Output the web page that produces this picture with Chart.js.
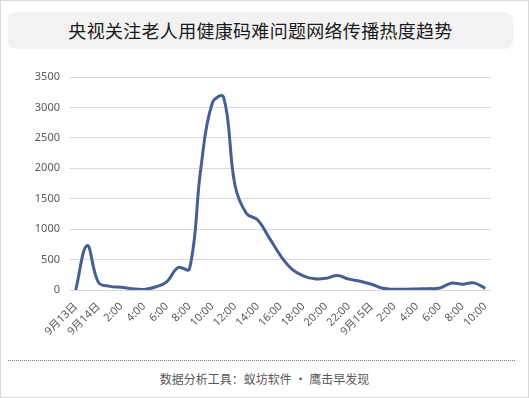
<!DOCTYPE html>
<html>
<head>
<meta charset="utf-8">
<script src="https://cdn.jsdelivr.net/npm/chart.js@4"></script>
<style>
  html, body { margin: 0; padding: 0; background: #fff; }
  #wrap { position: relative; width: 527px; height: 396px; border: 1px solid #d9d9d9; overflow: hidden;
          font-family: "Noto Sans CJK SC", "Noto Sans", sans-serif; }
  #title { position: absolute; left: 7px; top: 11px; width: 505px; height: 37px; background: #f2f2f2;
           border-radius: 8px; text-align: center; line-height: 37px; font-size: 18px; color: #1a1a1a;
           letter-spacing: 0.3px; }
  #chartBox { position: absolute; left: -1px; top: 54px; width: 529px; height: 300px; }
  #rule { position: absolute; left: 7px; top: 359px; width: 507px; border-top: 1px dotted #777; }
  #foot { position: absolute; left: 0; top: 368px; width: 527px; text-align: center; font-size: 12px;
          color: #595959; line-height: 20px; }
</style>
</head>
<body>
<div id="wrap">
  <div id="title">央视关注老人用健康码难问题网络传播热度趋势</div>
  <div id="chartBox"><canvas id="heatChart" width="529" height="300"></canvas></div>
  <div id="rule"></div>
  <div id="foot">数据分析工具：蚁坊软件 · 鹰击早发现</div>
</div>
<script>
// hourly points, 9/13 22:00 -> 9/15 10:00 (every other label shown)
const hours = [
  '9月13日', '23:00',
  '9月14日', '1:00', '2:00', '3:00', '4:00', '5:00', '6:00', '7:00', '8:00', '9:00', '10:00', '11:00',
  '12:00', '13:00', '14:00', '15:00', '16:00', '17:00', '18:00', '19:00', '20:00', '21:00', '22:00', '23:00',
  '9月15日', '1:00', '2:00', '3:00', '4:00', '5:00', '6:00', '7:00', '8:00', '9:00', '10:00'
];
const heat = [
  0, 730,
  125, 60, 45, 20, 10, 50, 135, 370, 345, 2000, 3070, 3170,
  1720, 1260, 1150, 860, 565, 345, 233, 183, 192, 238, 178, 145,
  95, 28, 12, 12, 17, 22, 33, 112, 95, 117, 28
];
const yTicks = [0, 500, 1000, 1500, 2000, 2500, 3000, 3500];

const tickFont = { family: '"Noto Sans", "Noto Sans CJK SC", sans-serif', size: 11 };

new Chart(document.getElementById('heatChart'), {
  type: 'line',
  data: {
    labels: hours,
    datasets: [{
      data: heat,
      borderColor: '#465f92',
      borderWidth: 3,
      tension: 0.4,
      pointRadius: 0,
      fill: false
    }]
  },
  options: {
    responsive: false,
    animation: false,
    layout: { padding: { left: 10, right: 38, top: 22, bottom: 0 } },
    plugins: { legend: { display: false }, tooltip: { enabled: false } },
    scales: {
      x: {
        offset: true,
        grid: { display: false },
        border: { display: false },
        ticks: {
          color: '#595959', font: tickFont, autoSkip: false,
          minRotation: 45, maxRotation: 45, padding: 2,
          callback: (v, i) => i % 2 === 0 ? hours[i] : ''
        },
        afterFit: s => { s.height = 65; }
      },
      y: {
        min: yTicks[0],
        max: yTicks[yTicks.length - 1],
        afterBuildTicks: s => { s.ticks = yTicks.map(v => ({ value: v })); },
        grid: { color: '#d9d9d9', drawTicks: false },
        border: { display: false },
        ticks: { color: '#595959', font: tickFont, padding: 10, callback: v => String(v) },
        afterFit: s => { s.width = 60; }
      }
    }
  }
});
</script>
</body>
</html>
